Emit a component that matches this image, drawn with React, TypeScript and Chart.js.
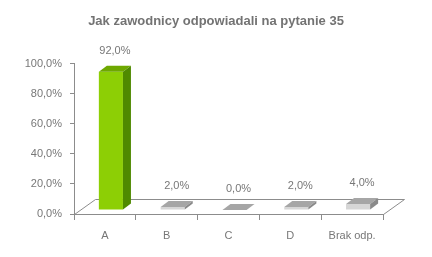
import React, { useEffect, useRef } from "react";
import { Chart, registerables } from "chart.js";

Chart.register(...registerables);

const TITLE = "Jak zawodnicy odpowiadali na pytanie 35";
const categories = ["A", "B", "C", "D", "Brak odp."];
const values = [92, 2, 0, 2, 4];
const frontColors = ["#8dcf05", "#d6d6d6", "#d6d6d6", "#d6d6d6", "#d6d6d6"];
const topColors = ["#6ea800", "#a6a6a6", "#a6a6a6", "#a6a6a6", "#a6a6a6"];
const sideColors = ["#4f8a00", "#8a8a8a", "#8a8a8a", "#8a8a8a", "#8a8a8a"];

const fmt = (v: number) => v.toFixed(1).replace(".", ",") + "%";

const DEPTH_X = 21;
const DEPTH_Y = 15;
const SHIFT_X = 6;
const SHIFT_Y = -4;
const FACE_X = 8;
const FACE_Y = 6;
const LINE = "#8c8c8c";
const TEXT = "#777777";
const SIDE_PAD = 24.5;

const threeD = {
  id: "threeD",
  beforeDatasetsDraw(chart: any) {
    const { ctx, chartArea } = chart;
    const l = chartArea.left, r = chartArea.right, b = chartArea.bottom;
    ctx.save();
    ctx.strokeStyle = LINE;
    ctx.lineWidth = 1;
    ctx.beginPath();
    ctx.moveTo(l + 0.5, b + 0.5);
    ctx.lineTo(l + DEPTH_X + 0.5, b - DEPTH_Y + 0.5);
    ctx.lineTo(r + DEPTH_X + 0.5, b - DEPTH_Y + 0.5);
    ctx.lineTo(r + 0.5, b + 0.5);
    ctx.stroke();
    ctx.restore();
    ctx.save();
    ctx.translate(SHIFT_X, SHIFT_Y);
  },
  afterDatasetsDraw(chart: any) {
    const { ctx } = chart;
    const meta = chart.getDatasetMeta(0);
    meta.data.forEach((bar: any, i: number) => {
      const p = bar.getProps(["x", "y", "base", "width"], true);
      const x1 = p.x - p.width / 2;
      const x2 = p.x + p.width / 2;
      const top = Math.min(p.y, p.base);
      const bottom = p.base;
      ctx.fillStyle = topColors[i];
      ctx.beginPath();
      ctx.moveTo(x1, top);
      ctx.lineTo(x2, top);
      ctx.lineTo(x2 + FACE_X, top - FACE_Y);
      ctx.lineTo(x1 + FACE_X, top - FACE_Y);
      ctx.closePath();
      ctx.fill();
      if (bottom - top > 0.5) {
        ctx.fillStyle = sideColors[i];
        ctx.beginPath();
        ctx.moveTo(x2, top);
        ctx.lineTo(x2 + FACE_X, top - FACE_Y);
        ctx.lineTo(x2 + FACE_X, bottom - FACE_Y);
        ctx.lineTo(x2, bottom);
        ctx.closePath();
        ctx.fill();
      }
      ctx.fillStyle = TEXT;
      ctx.font = "11px 'Liberation Sans', Arial, sans-serif";
      ctx.textAlign = "center";
      ctx.textBaseline = "middle";
      ctx.fillText(fmt(values[i]), p.x + 4, top - FACE_Y - 15);
    });
    ctx.restore();
  },
};

export default function App() {
  const ref = useRef<HTMLCanvasElement>(null);
  useEffect(() => {
    document.body.style.margin = "0";
    const chart = new Chart(ref.current as HTMLCanvasElement, {
      type: "bar",
      data: {
        labels: categories,
        datasets: [
          {
            data: values,
            backgroundColor: frontColors,
            borderWidth: 0,
            barPercentage: 0.78,
            categoryPercentage: 0.5,
          },
        ],
      },
      options: {
        responsive: false,
        animation: false,
        layout: { padding: { top: 0, right: SIDE_PAD, bottom: 0, left: SIDE_PAD } },
        plugins: {
          legend: { display: false },
          tooltip: { enabled: false },
          title: {
            display: true,
            text: TITLE,
            color: "#737373",
            font: { family: "'Liberation Sans', Arial, sans-serif", size: 13, weight: "bold" },
            padding: { top: 14, bottom: 34 },
          },
        },
        scales: {
          y: {
            min: 0,
            max: 100,
            afterFit: (s: any) => {
              s.width = 74 - SIDE_PAD;
            },
            ticks: {
              stepSize: 20,
              padding: 8,
              color: TEXT,
              font: { family: "'Liberation Sans', Arial, sans-serif", size: 11 },
              callback: (v: any) => fmt(Number(v)),
            },
            grid: { drawOnChartArea: false, tickLength: 4, color: LINE },
            border: { color: LINE },
          },
          yRight: {
            position: "right",
            min: 0,
            max: 100,
            afterFit: (s: any) => {
              s.width = 49 - SIDE_PAD;
            },
            ticks: { display: false },
            grid: { display: false },
            border: { display: false },
          },
          x: {
            afterFit: (s: any) => {
              s.height = 43;
            },
            ticks: {
              padding: 9,
              color: TEXT,
              font: { family: "'Liberation Sans', Arial, sans-serif", size: 11 },
            },
            grid: { offset: true, drawOnChartArea: false, tickLength: 6, color: LINE },
            border: { color: LINE },
          },
        },
      },
      plugins: [threeD],
    } as any);
    return () => chart.destroy();
  }, []);
  return (
    <div style={{ position: "absolute", left: 0, top: 0, width: 432, height: 257 }}>
      <canvas ref={ref} width={432} height={257} />
    </div>
  );
}
